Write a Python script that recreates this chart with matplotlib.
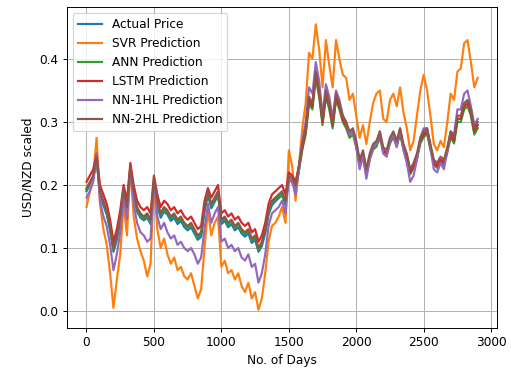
import matplotlib
matplotlib.use('Agg')
import matplotlib.pyplot as plt

# days sampled every 25 days
days = list(range(0, 2901, 25))

actual = [0.19, 0.2, 0.21, 0.24, 0.185, 0.168, 0.153, 0.128, 0.094, 0.113,
          0.143, 0.189, 0.158, 0.224, 0.184, 0.158, 0.148, 0.144, 0.148, 0.138,
          0.204, 0.168, 0.148, 0.158, 0.153, 0.143, 0.148, 0.138, 0.143, 0.133,
          0.128, 0.133, 0.123, 0.113, 0.118, 0.158, 0.184, 0.163, 0.173, 0.184,
          0.138, 0.143, 0.133, 0.138, 0.128, 0.133, 0.123, 0.118, 0.123, 0.108,
          0.113, 0.094, 0.103, 0.123, 0.153, 0.168, 0.174, 0.179, 0.184, 0.168,
          0.21, 0.205, 0.195, 0.225, 0.26, 0.285, 0.335, 0.325, 0.376, 0.345,
          0.3, 0.345, 0.325, 0.295, 0.34, 0.325, 0.305, 0.295, 0.28, 0.285,
          0.265, 0.236, 0.25, 0.22, 0.245, 0.26, 0.265, 0.28, 0.255, 0.25,
          0.27, 0.28, 0.265, 0.285, 0.26, 0.245, 0.22, 0.23, 0.245, 0.27,
          0.28, 0.285, 0.26, 0.236, 0.23, 0.24, 0.236, 0.255, 0.28, 0.27,
          0.305, 0.305, 0.325, 0.33, 0.315, 0.285, 0.295]

svr = [0.165, 0.19, 0.215, 0.275, 0.17, 0.13, 0.105, 0.06, 0.005, 0.05,
       0.09, 0.17, 0.12, 0.23, 0.15, 0.115, 0.095, 0.08, 0.055, 0.075,
       0.205, 0.13, 0.10, 0.115, 0.09, 0.075, 0.085, 0.065, 0.07, 0.055,
       0.05, 0.06, 0.04, 0.02, 0.035, 0.10, 0.16, 0.12, 0.14, 0.15,
       0.07, 0.08, 0.06, 0.065, 0.05, 0.06, 0.04, 0.03, 0.045, 0.02,
       0.03, 0.002, 0.02, 0.06, 0.11, 0.135, 0.14, 0.15, 0.165, 0.14,
       0.255, 0.23, 0.175, 0.23, 0.29, 0.33, 0.41, 0.40, 0.455, 0.415,
       0.355, 0.43, 0.39, 0.355, 0.43, 0.40, 0.375, 0.37, 0.335, 0.345,
       0.31, 0.275, 0.295, 0.265, 0.30, 0.33, 0.345, 0.35, 0.305, 0.30,
       0.335, 0.345, 0.325, 0.355, 0.315, 0.29, 0.255, 0.27, 0.31, 0.35,
       0.375, 0.35, 0.31, 0.265, 0.255, 0.27, 0.26, 0.30, 0.345, 0.335,
       0.38, 0.385, 0.425, 0.43, 0.395, 0.355, 0.37]

ann = [0.193, 0.203, 0.212, 0.24, 0.187, 0.172, 0.157, 0.132, 0.097, 0.117,
       0.147, 0.192, 0.162, 0.226, 0.187, 0.162, 0.152, 0.147, 0.152, 0.142,
       0.206, 0.172, 0.152, 0.162, 0.157, 0.147, 0.152, 0.142, 0.147, 0.137,
       0.132, 0.137, 0.127, 0.117, 0.122, 0.162, 0.187, 0.167, 0.177, 0.187,
       0.142, 0.147, 0.137, 0.142, 0.132, 0.137, 0.127, 0.122, 0.127, 0.112,
       0.117, 0.097, 0.107, 0.127, 0.157, 0.172, 0.177, 0.181, 0.186, 0.171,
       0.21, 0.204, 0.193, 0.222, 0.256, 0.28, 0.33, 0.32, 0.37, 0.34,
       0.295, 0.34, 0.32, 0.29, 0.335, 0.32, 0.3, 0.29, 0.275, 0.28,
       0.26, 0.232, 0.246, 0.217, 0.241, 0.256, 0.261, 0.276, 0.251, 0.246,
       0.266, 0.276, 0.261, 0.281, 0.256, 0.241, 0.217, 0.227, 0.241, 0.266,
       0.276, 0.281, 0.256, 0.232, 0.227, 0.237, 0.232, 0.251, 0.276, 0.266,
       0.3, 0.3, 0.32, 0.325, 0.31, 0.28, 0.29]

lstm = [0.205, 0.215, 0.225, 0.25, 0.2, 0.185, 0.17, 0.145, 0.11, 0.13,
        0.16, 0.2, 0.175, 0.235, 0.2, 0.175, 0.165, 0.16, 0.165, 0.155,
        0.215, 0.185, 0.165, 0.175, 0.17, 0.16, 0.165, 0.155, 0.16, 0.15,
        0.145, 0.15, 0.14, 0.13, 0.135, 0.175, 0.195, 0.18, 0.19, 0.2,
        0.155, 0.16, 0.15, 0.155, 0.145, 0.15, 0.14, 0.135, 0.14, 0.125,
        0.13, 0.11, 0.12, 0.14, 0.17, 0.185, 0.19, 0.195, 0.2, 0.185,
        0.22, 0.215, 0.205, 0.23, 0.26, 0.285, 0.335, 0.325, 0.375, 0.345,
        0.3, 0.345, 0.325, 0.295, 0.34, 0.325, 0.305, 0.295, 0.28, 0.285,
        0.265, 0.235, 0.25, 0.22, 0.245, 0.26, 0.265, 0.28, 0.255, 0.25,
        0.27, 0.28, 0.265, 0.285, 0.26, 0.245, 0.22, 0.23, 0.245, 0.27,
        0.28, 0.285, 0.26, 0.235, 0.23, 0.24, 0.235, 0.255, 0.28, 0.27,
        0.305, 0.305, 0.325, 0.33, 0.315, 0.285, 0.295]

nn_1hl = [0.18, 0.19, 0.205, 0.25, 0.175, 0.15, 0.135, 0.105, 0.065, 0.09,
          0.125, 0.18, 0.145, 0.225, 0.17, 0.14, 0.125, 0.12, 0.11, 0.115,
          0.205, 0.15, 0.13, 0.14, 0.125, 0.115, 0.12, 0.105, 0.11, 0.10,
          0.095, 0.10, 0.09, 0.075, 0.085, 0.13, 0.17, 0.14, 0.155, 0.165,
          0.11, 0.115, 0.10, 0.105, 0.095, 0.10, 0.085, 0.08, 0.09, 0.07,
          0.075, 0.045, 0.06, 0.09, 0.135, 0.155, 0.16, 0.165, 0.175, 0.155,
          0.21, 0.205, 0.185, 0.225, 0.27, 0.30, 0.355, 0.345, 0.395, 0.365,
          0.31, 0.36, 0.34, 0.305, 0.35, 0.335, 0.31, 0.30, 0.28, 0.285,
          0.26, 0.225, 0.245, 0.21, 0.24, 0.26, 0.265, 0.285, 0.25, 0.245,
          0.27, 0.28, 0.26, 0.29, 0.255, 0.235, 0.205, 0.215, 0.24, 0.275,
          0.29, 0.29, 0.26, 0.225, 0.22, 0.235, 0.225, 0.255, 0.285, 0.28,
          0.32, 0.32, 0.345, 0.35, 0.325, 0.295, 0.305]

nn_2hl = [0.195, 0.205, 0.215, 0.245, 0.19, 0.175, 0.16, 0.135, 0.10, 0.12,
          0.15, 0.195, 0.165, 0.23, 0.19, 0.165, 0.155, 0.15, 0.155, 0.145,
          0.21, 0.175, 0.155, 0.165, 0.16, 0.15, 0.155, 0.145, 0.15, 0.14,
          0.135, 0.14, 0.13, 0.12, 0.125, 0.165, 0.19, 0.17, 0.18, 0.19,
          0.145, 0.15, 0.14, 0.145, 0.135, 0.14, 0.13, 0.125, 0.13, 0.115,
          0.12, 0.10, 0.11, 0.13, 0.16, 0.175, 0.18, 0.185, 0.19, 0.175,
          0.215, 0.21, 0.20, 0.23, 0.265, 0.29, 0.34, 0.33, 0.38, 0.35,
          0.305, 0.35, 0.33, 0.30, 0.345, 0.33, 0.31, 0.30, 0.285, 0.29,
          0.27, 0.24, 0.255, 0.225, 0.25, 0.265, 0.27, 0.285, 0.26, 0.255,
          0.275, 0.285, 0.27, 0.29, 0.265, 0.25, 0.225, 0.235, 0.25, 0.275,
          0.285, 0.29, 0.265, 0.24, 0.235, 0.245, 0.24, 0.26, 0.285, 0.275,
          0.31, 0.31, 0.33, 0.335, 0.32, 0.29, 0.30]

DPI = 87
fig = plt.figure(figsize=(511 / DPI, 369 / DPI), dpi=DPI)
ax = fig.add_axes([0.131, 0.111, 0.842, 0.870])

lw = 1.8
ax.plot(days, actual, label='Actual Price', lw=lw)
ax.plot(days, svr, label='SVR Prediction', lw=lw)
ax.plot(days, ann, label='ANN Prediction', lw=lw)
ax.plot(days, lstm, label='LSTM Prediction', lw=lw)
ax.plot(days, nn_1hl, label='NN-1HL Prediction', lw=lw)
ax.plot(days, nn_2hl, label='NN-2HL Prediction', lw=lw)

ax.set_xlim(-145, 3045)
ax.set_ylim(-0.027, 0.4825)
ax.set_xlabel('No. of Days')
ax.set_ylabel('USD/NZD scaled')
ax.grid(True)
ax.legend(loc='upper left')

plt.savefig('out.png', dpi=DPI)
plt.close()
